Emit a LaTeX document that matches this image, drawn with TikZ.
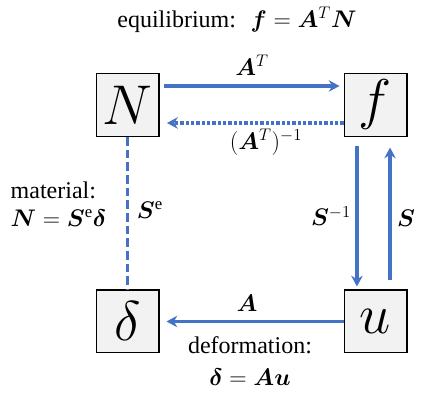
\RequirePackage{fix-cm}
\documentclass[tikz,border=0pt]{standalone}
\usepackage{amsmath}
\usepackage{bm}
\usepackage{fontspec}
\setmainfont{Liberation Serif}
\usetikzlibrary{arrows.meta}
\definecolor{linkblue}{HTML}{4472C4}

\begin{document}
\begin{tikzpicture}[x=0.75pt,y=-0.75pt,
		box/.style={draw, line width=1pt, fill=gray!10, minimum size=47pt, inner sep=0pt, font=\fontsize{42}{46}\selectfont},
		link/.style={linkblue, line width=2.9pt, -{Stealth[length=8pt,width=8.5pt,inset=2.5pt]}},
		lbl/.style={font=\fontsize{18}{21}\selectfont}
		]
		
		\useasboundingbox (0,0) rectangle (426,399);
		
		% Draw the four boxes
		\node[box] (N) at (127.5,105) {$N$};
		\node[box] (f) at (375.5,105) {$f$};
		\node[box] (delta) at (127.5,321.5) {$\delta$};
		\node[box] (u) at (375.5,321.5) {$u$};
		
		% Draw the arrows between the boxes
		\draw[link, shorten <=3.4pt, shorten >=3pt] ([yshift=14.25pt]N.east) -- ([yshift=14.25pt]f.west);
		\draw[link, dash pattern=on 2.4pt off 1.6pt, shorten >=5.6pt] ([yshift=-13.5pt]f.west) -- ([yshift=-13.5pt]N.east);
		\draw[link, shorten <=6.4pt, shorten >=2.25pt] ([xshift=-13.9pt]f.south) -- ([xshift=-13.9pt]u.north);
		\draw[link, shorten <=6.75pt, shorten >=7.9pt] ([xshift=10.9pt]u.north) -- ([xshift=10.9pt]f.south);
		\draw[link, shorten >=5.25pt] (u.west) -- (delta.east);
		\draw[linkblue, line width=2.9pt, dash pattern=on 6.5pt off 3pt] (N.south) -- (delta.north);
		
		% Add the labels
		\node[lbl] (eq) at (237,20) {equilibrium:\; $\bm{f}=\bm{A}^T\bm{N}$};
		\node[lbl] (AT) at (252,65) {$\bm{A}^T$};
		\node[lbl] (ATinv) at (266,142) {$(\bm{A}^T)^{-1}$};
		\node[lbl] (Sinv) at (331,216) {$\bm{S}^{-1}$};
		\node[lbl] (S) at (406,218) {$\bm{S}$};
		\node[lbl] (Se) at (150,210) {$\bm{S}^{\mathrm{e}}$};
		\node[lbl, anchor=west, align=left] (mat) at (6,204) {material:\\$\bm{N}=\bm{S}^{\mathrm{e}}\bm{\delta}$};
		\node[lbl] (A) at (247,303) {$\bm{A}$};
		\node[lbl, align=center, font=\fontsize{18}{24}\selectfont] (def) at (250,361) {deformation:\\$\bm{\delta}=\bm{A}\bm{u}$};
		
	\end{tikzpicture}
\end{document}
